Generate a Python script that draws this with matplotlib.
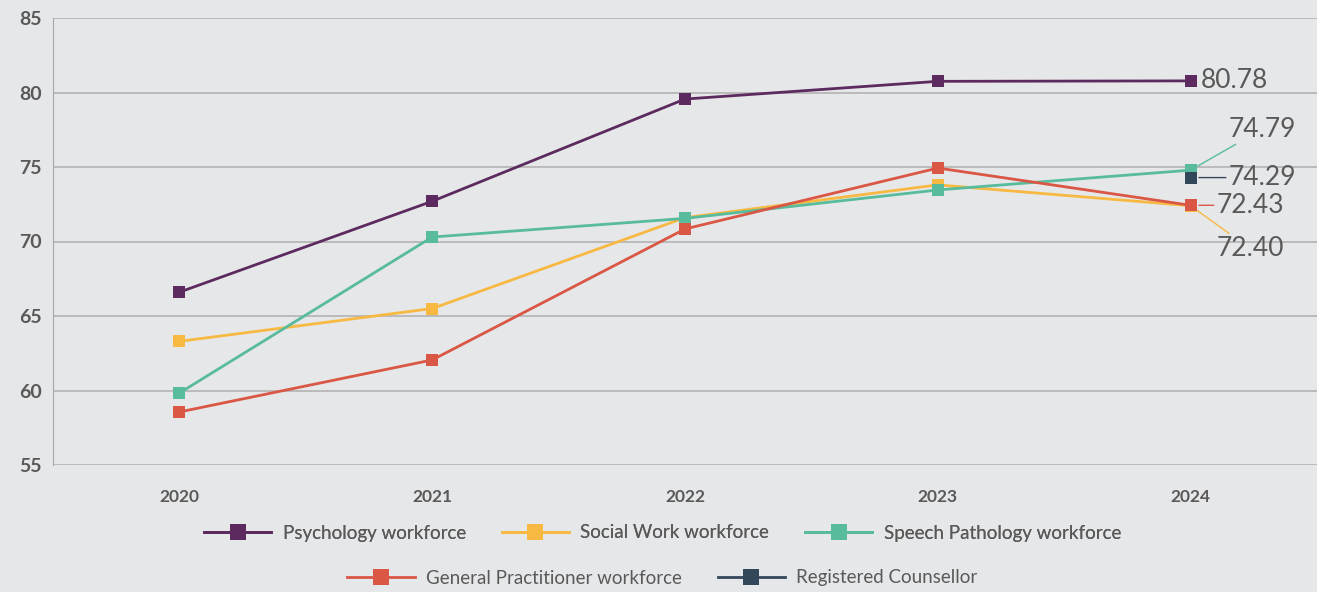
#!/usr/bin/env python3

import matplotlib
matplotlib.use("Agg")
import matplotlib.pyplot as plt
from matplotlib.lines import Line2D

plt.rcParams['font.family'] = ['Lato', 'DejaVu Sans']

YEARS = ["2020", "2021", "2022", "2023", "2024"]

PSYCHOLOGY = [66.6, 72.7, 79.56, 80.75, 80.78]
SOCIAL_WORK = [63.3, 65.5, 71.6, 73.8, 72.40]
SPEECH_PATHOLOGY = [59.83, 70.3, 71.55, 73.46, 74.79]
GENERAL_PRACTITIONER = [58.56, 62.05, 70.84, 74.93, 72.43]
REGISTERED_COUNSELLOR = [None, None, None, None, 74.29]

SERIES = [
    ("Psychology workforce", PSYCHOLOGY, "#5c2a5e"),
    ("Social Work workforce", SOCIAL_WORK, "#f7b942"),
    ("Speech Pathology workforce", SPEECH_PATHOLOGY, "#57bb9c"),
    ("General Practitioner workforce", GENERAL_PRACTITIONER, "#d95744"),
    ("Registered Counsellor", REGISTERED_COUNSELLOR, "#33475b"),
]

# label offsets (pixels) for the end-of-line value labels
LABEL_OFFSETS = {
    "Psychology workforce": (10, 0),
    "Social Work workforce": (26, -43),
    "Speech Pathology workforce": (38, 41),
    "General Practitioner workforce": (26, 0),
    "Registered Counsellor": (38, 0),
}

BG = "#e6e7e9"
TEXT = "#595959"

fig = plt.figure(figsize=(13.17, 5.92), dpi=100, facecolor=BG)
ax = fig.add_axes([53/1317, 127/592, 1 - 53/1317, 447/592], facecolor=BG)

x = list(range(len(YEARS)))
for name, vals, color in SERIES:
    pts = [(i, v) for i, v in zip(x, vals) if v is not None]
    xs = [p[0] for p in pts]
    ys = [p[1] for p in pts]
    ax.plot(xs, ys, color=color, lw=2, marker="s", markersize=8,
            markeredgewidth=0, zorder=3)

# value labels at 2024 with thin leader lines
for name, vals, color in SERIES:
    v = vals[-1]
    dx, dy = LABEL_OFFSETS[name]
    arrow = None
    if name != "Psychology workforce":
        arrow = dict(arrowstyle="-", color=color, lw=1, shrinkA=0, shrinkB=6)
    ax.annotate(f"{v:.2f}", xy=(x[-1], v), xytext=(dx, dy),
                textcoords="offset pixels", ha="left", va="center",
                fontsize=19, color=TEXT, arrowprops=arrow, zorder=4)

ax.set_xlim(-0.5, 4.5)
ax.set_ylim(55, 85)
ax.set_yticks(range(55, 86, 5))
ax.set_xticks(x)
ax.set_xticklabels(YEARS)
ax.grid(axis="y", color="#b3b3b3", lw=1.2)
ax.set_axisbelow(True)
for s in ("top", "right", "bottom"):
    ax.spines[s].set_visible(False)
ax.spines["left"].set_color("#a6a6a6")
ax.tick_params(axis="both", length=0, labelcolor=TEXT)
ax.tick_params(axis="x", pad=17, labelsize=12.5)
ax.tick_params(axis="y", pad=8, labelsize=14)
for lbl in ax.get_xticklabels() + ax.get_yticklabels():
    lbl.set_fontweight("bold")

handles = [Line2D([0], [0], color=c, lw=2, marker="s", markersize=11,
                  markeredgewidth=0) for _, _, c in SERIES]
names = [n for n, _, _ in SERIES]

leg_kw = dict(loc="center", frameon=False, fontsize=13.5, handlelength=3.6,
              columnspacing=1.9, handletextpad=0.6, labelcolor=TEXT)
leg1 = fig.legend(handles[:3], names[:3], ncol=3,
                  bbox_to_anchor=(0.503, (592 - 533) / 592), **leg_kw)
fig.add_artist(leg1)
fig.legend(handles[3:], names[3:], ncol=2,
           bbox_to_anchor=(0.503, (592 - 578) / 592), **leg_kw)

plt.savefig("out.png", dpi=100, facecolor=BG)
plt.close()
